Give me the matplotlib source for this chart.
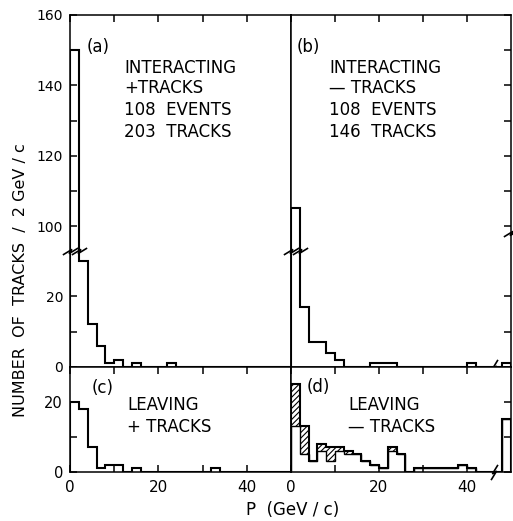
import numpy as np
import matplotlib
matplotlib.use("Agg")
import matplotlib.pyplot as plt
from matplotlib.path import Path

plt.rcParams['font.family'] = 'DejaVu Sans'
plt.rcParams['hatch.linewidth'] = 0.8

# momentum bins, 2 GeV/c wide; last bin (48-50) is the overflow bin
edges = np.arange(0, 52, 2)

# (a) interacting + tracks
int_pos = [150, 30, 12, 6, 1, 2, 0, 1, 0, 0, 0, 1, 0,
           0, 0, 0, 0, 0, 0, 0, 0, 0, 0, 0, 0]
# (b) interacting - tracks
int_neg = [105, 17, 7, 7, 4, 2, 0, 0, 0, 1, 1, 1, 0,
           0, 0, 0, 0, 0, 0, 0, 1, 0, 0, 0, 1]
# (c) leaving + tracks
leave_pos = [20, 18, 7, 1, 2, 2, 0, 1, 0, 0, 0, 0, 0,
             0, 0, 0, 1, 0, 0, 0, 0, 0, 0, 0, 0]
# (d) leaving - tracks: total and unhatched part
leave_neg = [25, 13, 3, 8, 7, 7, 6, 5, 3, 2, 1, 7, 5,
             0, 1, 1, 1, 1, 1, 2, 1, 0, 0, 0, 15]
leave_neg_open = [13, 5, 3, 6, 3, 6, 5, 5, 3, 2, 1, 6, 5,
                  0, 1, 1, 1, 1, 1, 2, 1, 0, 0, 0, 15]

# broken y axis of the upper panels: 0-33 and 93-160
LOW_TOP, HIGH_BOT = 33, 93


def brk_fwd(y):
    y = np.asarray(y, float)
    return np.where(y >= HIGH_BOT, y - (HIGH_BOT - LOW_TOP), np.minimum(y, LOW_TOP))


def brk_inv(t):
    t = np.asarray(t, float)
    return np.where(t > LOW_TOP, t + (HIGH_BOT - LOW_TOP), t)


ZIG = Path([(-1.0, -0.45), (0.15, 0.25), (-0.15, -0.25), (1.0, 0.45)])
ZIG_V = Path([(-0.45, -1.0), (0.25, 0.15), (-0.25, -0.15), (0.45, 1.0)])


def break_mark(ax, x, yfrac, vertical=False):
    ax.plot([x], [yfrac], transform=ax.get_xaxis_transform(), clip_on=False,
            marker=ZIG_V if vertical else ZIG, markersize=11,
            markerfacecolor='none', markeredgecolor='black',
            markeredgewidth=1.2, linestyle='none', zorder=5)


W, H = 513, 521
fig = plt.figure(figsize=(W / 100, H / 100), dpi=100)

x0, xm, x1 = 70, 291, 511
y_top, y_mid, y_bot = 15, 366.7, 471.7


def add_ax(left, right, top, bottom):
    return fig.add_axes([left / W, (H - bottom) / H, (right - left) / W, (bottom - top) / H])


ax_a = add_ax(x0, xm, y_top, y_mid)
ax_b = add_ax(xm, x1, y_top, y_mid)
ax_c = add_ax(x0, xm, y_mid, y_bot)
ax_d = add_ax(xm, x1, y_mid, y_bot)

lw = 1.5
for ax in (ax_a, ax_b, ax_c, ax_d):
    ax.set_xlim(0, 50)
    ax.set_xticks([0, 10, 20, 30, 40])
    for s in ax.spines.values():
        s.set_linewidth(1.1)
    ax.tick_params(direction='in', length=5, width=1.1, labelsize=11)

upper_ticks = [0, 10, 20, 100, 110, 120, 130, 140, 150, 160]
upper_labels = ['0', '', '20', '100', '', '120', '', '140', '', '160']
for ax in (ax_a, ax_b):
    ax.set_yscale('function', functions=(brk_fwd, brk_inv))
    ax.set_ylim(0, 160)
    ax.set_yticks(upper_ticks)
    ax.set_xticklabels([])
    ax.tick_params(axis='x', top=True, bottom=False)

for ax in (ax_c, ax_d):
    ax.set_ylim(0, 30)
    ax.set_yticks([0, 10, 20])
    ax.set_xticklabels(['0', '', '20', '', '40'])
    ax.tick_params(axis='x', top=True, bottom=True, pad=6)

ax_a.set_yticklabels(upper_labels)
ax_a.tick_params(axis='y', left=True, right=False, pad=5, labelsize=10)
ax_c.set_yticklabels(['0', '', '20'])
ax_c.tick_params(axis='y', left=True, right=False, pad=5, labelsize=10.5)
for ax in (ax_b, ax_d):
    ax.tick_params(axis='y', left=False, right=True, labelleft=False)

ax_a.stairs(int_pos, edges, color='black', linewidth=lw)
ax_b.stairs(int_neg, edges, color='black', linewidth=lw)
ax_c.stairs(leave_pos, edges, color='black', linewidth=lw)
ax_d.stairs(leave_neg, edges, baseline=leave_neg_open, fill=True,
            facecolor='white', edgecolor='black', hatch='//////', linewidth=0)
ax_d.stairs(leave_neg_open, edges, color='black', linewidth=1.0)
ax_d.stairs(leave_neg, edges, color='black', linewidth=lw)

# axis break marks
brk = LOW_TOP / 100
for ax in (ax_a, ax_b):
    break_mark(ax, 0, brk)
    break_mark(ax, 2, brk)
break_mark(ax_b, 50, 0.38)
break_mark(ax_b, 46.2, 0.0, vertical=True)
break_mark(ax_d, 46.2, 0.0, vertical=True)

fs = 12
ax_a.text(0.077, 0.909, '(a)', transform=ax_a.transAxes, fontsize=fs, va='center')
for yy, s in zip([0.849, 0.793, 0.730, 0.668],
                 ['INTERACTING', '+TRACKS', '108  EVENTS', '203  TRACKS']):
    ax_a.text(0.244, yy, s, transform=ax_a.transAxes, fontsize=fs, va='center')

ax_b.text(0.026, 0.909, '(b)', transform=ax_b.transAxes, fontsize=fs, va='center')
for yy, s in zip([0.849, 0.793, 0.730, 0.668],
                 ['INTERACTING', '\u2014 TRACKS', '108  EVENTS', '146  TRACKS']):
    ax_b.text(0.173, yy, s, transform=ax_b.transAxes, fontsize=fs, va='center')

ax_c.text(0.10, 0.80, '(c)', transform=ax_c.transAxes, fontsize=fs, va='center')
ax_c.text(0.258, 0.635, 'LEAVING', transform=ax_c.transAxes, fontsize=fs, va='center')
ax_c.text(0.258, 0.426, '+ TRACKS', transform=ax_c.transAxes, fontsize=fs, va='center')

ax_d.text(0.073, 0.807, '(d)', transform=ax_d.transAxes, fontsize=fs, va='center')
ax_d.text(0.259, 0.635, 'LEAVING', transform=ax_d.transAxes, fontsize=fs, va='center')
ax_d.text(0.259, 0.426, '\u2014 TRACKS', transform=ax_d.transAxes, fontsize=fs, va='center')

fig.text(21 / W, (H - 280) / H, 'NUMBER  OF  TRACKS  /  2 GeV / c', rotation=90,
         fontsize=11.5, ha='center', va='center')
fig.text(293 / W, (H - 510) / H, 'P  (GeV / c)', fontsize=fs, ha='center', va='center')

fig.savefig('out.png', dpi=100)
